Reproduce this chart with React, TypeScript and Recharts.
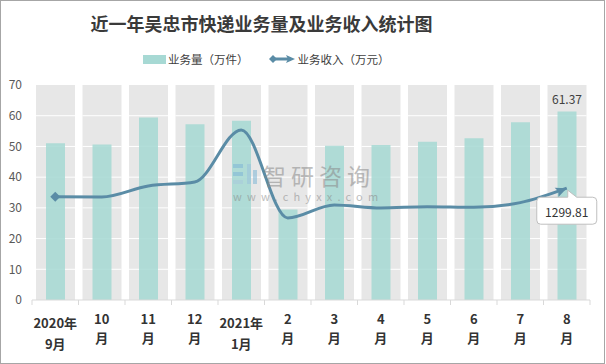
import { Bar, ComposedChart, LabelList, Line, XAxis, YAxis } from "recharts";

const months = ["2020年9月", "10月", "11月", "12月", "2021年1月", "2月", "3月", "4月", "5月", "6月", "7月", "8月"];
const volume = [51.0, 50.6, 59.4, 57.2, 58.4, 29.5, 50.2, 50.5, 51.5, 52.7, 57.9, 61.37];
const revenue = [1201, 1198, 1326, 1372, 1978, 954, 1105, 1070, 1085, 1078, 1132, 1299.81];
const yTicks = [0, 10, 20, 30, 40, 50, 60, 70];

const data = months.map((m, i) => ({ month: m, volume: volume[i], revenue: revenue[i] }));

const W = 606;
const H = 364;
const X_H = 30;
const M = { top: 85, right: 16, bottom: 64 - X_H, left: 0 };
const Y_W = 32;
const HALF_BAND = (W - M.right - Y_W) / months.length / 2;

const BAR = "#a7d9d4";
const LINE = "#5a8ca6";
const FONT = "'Noto Sans CJK SC', 'Noto Sans', sans-serif";

function BandBg(props: any) {
  const { x, y, width, height } = props;
  const bw = 39;
  const bx = x + width / 2 - bw / 2;
  const top = yTicks[yTicks.length - 1];
  return (
    <g>
      <rect x={bx} y={y} width={bw} height={height} fill="#e7e7e7" />
      {yTicks.slice(1, -1).map((t) => {
        const ly = y + height - (height * t) / top;
        return <line key={t} x1={bx} x2={bx + bw} y1={ly} y2={ly} stroke="#fff" strokeWidth={1} />;
      })}
    </g>
  );
}

function MonthTick(props: any) {
  const { x, y, payload, index } = props;
  const label: string = payload.value;
  const k = label.indexOf("年");
  const isYear = k >= 0;
  const l1 = isYear ? label.slice(0, k + 1) : label.replace("月", "");
  const l2 = isYear ? label.slice(k + 1) : "月";
  const last = index === months.length - 1;
  return (
    <g>
      <line x1={x - HALF_BAND} x2={x - HALF_BAND} y1={y} y2={y + 5} stroke="#d9d9d9" />
      {last && <line x1={x + HALF_BAND} x2={x + HALF_BAND} y1={y} y2={y + 5} stroke="#d9d9d9" />}
      <text x={x} y={y + (isYear ? 22 : 18)} textAnchor="middle" dominantBaseline="central" fontSize={13} fontWeight={700} fill="#333" fontFamily={FONT}>
        {l1}
      </text>
      <text x={x} y={y + (isYear ? 43 : 37)} textAnchor="middle" dominantBaseline="central" fontSize={13} fontWeight={700} fill="#333" fontFamily={FONT}>
        {l2}
      </text>
    </g>
  );
}

function LineDot(props: any) {
  const { cx, cy, index } = props;
  if (index === 0) {
    return <path key={index} d={`M${cx - 5},${cy} L${cx},${cy - 5} L${cx + 5},${cy} L${cx},${cy + 5} Z`} fill={LINE} />;
  }
  if (index === data.length - 1) {
    return (
      <g key={index} transform={`translate(${cx},${cy}) rotate(-22)`}>
        <path d="M0,0 L-11,-5 L-9,0 L-11,5 Z" fill={LINE} />
      </g>
    );
  }
  return <g key={index} />;
}

function VolumeLabel(props: any) {
  const { x, y, width, value, index } = props;
  if (index !== data.length - 1) return null;
  return (
    <text x={x + width / 2} y={y - 13} textAnchor="middle" dominantBaseline="central" fontSize={12} fill="#404040" fontFamily={FONT}>
      {value}
    </text>
  );
}

function RevenueCallout(props: any) {
  const { x, y, value, index } = props;
  if (index !== data.length - 1) return null;
  const left = x - 30;
  const right = x + 30;
  const top = y + 9;
  const bottom = y + 36;
  const r = 4;
  const d = `M${left + r},${top} L${x + 1},${top} L${x + 1},${y + 2} L${x + 10},${top} L${right - r},${top} Q${right},${top} ${right},${top + r} L${right},${bottom - r} Q${right},${bottom} ${right - r},${bottom} L${left + r},${bottom} Q${left},${bottom} ${left},${bottom - r} L${left},${top + r} Q${left},${top} ${left + r},${top} Z`;
  return (
    <g>
      <path d={d} fill="#fff" stroke="#bfbfbf" strokeWidth={1} />
      <text x={x} y={(top + bottom) / 2 + 1} textAnchor="middle" dominantBaseline="central" fontSize={12} fill="#333" fontFamily={FONT}>
        {value}
      </text>
    </g>
  );
}

function LegendBox() {
  return (
    <div style={{ position: "absolute", left: 143, top: 51, display: "flex", alignItems: "center", fontSize: 11.5, color: "#404040", fontFamily: FONT, lineHeight: "16px" }}>
      <svg width={23} height={9} style={{ marginRight: 2 }}>
        <rect x={0} y={0} width={23} height={9} fill={BAR} />
      </svg>
      <span>业务量（万件）</span>
      <svg width={26} height={10} style={{ marginLeft: 20, marginRight: 3 }}>
        <line x1={3} x2={22} y1={5} y2={5} stroke={LINE} strokeWidth={3} />
        <path d="M0,5 L4,1 L8,5 L4,9 Z" fill={LINE} />
        <path d="M26,5 L17,1 L19,5 L17,9 Z" fill={LINE} />
      </svg>
      <span>业务收入（万元）</span>
    </div>
  );
}

export default function App() {
  return (
    <div style={{ position: "absolute", left: 0, top: 0, width: W, height: H, background: "#fff" }}>
      <div style={{ position: "absolute", left: 0, top: 0, width: W - 1, height: H, boxSizing: "border-box", border: "1px solid #a6a6a6", pointerEvents: "none" }} />
      <div style={{ position: "absolute", top: 10, left: 0, width: 523, textAlign: "center", fontSize: 18, fontWeight: 700, color: "#3a3a3a", fontFamily: FONT, lineHeight: "26px" }}>
        近一年吴忠市快递业务量及业务收入统计图
      </div>
      <LegendBox />
      <ComposedChart width={W} height={H} data={data} margin={M}>
        <XAxis dataKey="month" height={X_H} interval={0} axisLine={{ stroke: "#d9d9d9" }} tickLine={false} tickSize={0} tickMargin={0} tick={<MonthTick />} />
        <YAxis
          yAxisId="left"
          domain={[0, 70]}
          ticks={yTicks}
          width={Y_W}
          axisLine={false}
          tickLine={false}
          tickSize={6}
          tickMargin={4}
          tick={{ fontSize: 12, fill: "#595959", fontFamily: FONT }}
        />
        <YAxis yAxisId="right" orientation="right" hide domain={[0, 2500]} />
        <Bar yAxisId="left" dataKey="volume" barSize={19} fill={BAR} fillOpacity={0.88} background={<BandBg />} isAnimationActive={false}>
          <LabelList dataKey="volume" content={<VolumeLabel />} />
        </Bar>
        <Line yAxisId="right" type="monotone" dataKey="revenue" stroke={LINE} strokeWidth={3} dot={LineDot} activeDot={false} isAnimationActive={false}>
          <LabelList dataKey="revenue" content={<RevenueCallout />} />
        </Line>
      </ComposedChart>
      <div style={{ position: "absolute", left: 233, top: 163, pointerEvents: "none", opacity: 0.55, fontFamily: FONT }}>
        <div style={{ display: "flex", alignItems: "center", height: 24 }}>
          <svg width={26} height={24} style={{ marginRight: 4 }}>
            <rect x={0} y={1} width={10} height={4} fill="#7fb6d6" />
            <rect x={0} y={9} width={10} height={4} fill="#7fb6d6" />
            <rect x={0} y={17} width={10} height={4} fill="#a9c9dc" />
            <rect x={14} y={1} width={4} height={20} fill="#9bc3dc" />
            <rect x={20} y={7} width={4} height={14} fill="#7fb6d6" />
          </svg>
          <span style={{ fontSize: 23, color: "#8a8a8a", letterSpacing: 5, lineHeight: "24px" }}>智研咨询</span>
        </div>
        <div style={{ fontSize: 11, color: "#8a8a8a", letterSpacing: 5.2, marginTop: 3, lineHeight: "12px" }}>www.chyxx.com</div>
      </div>
    </div>
  );
}
